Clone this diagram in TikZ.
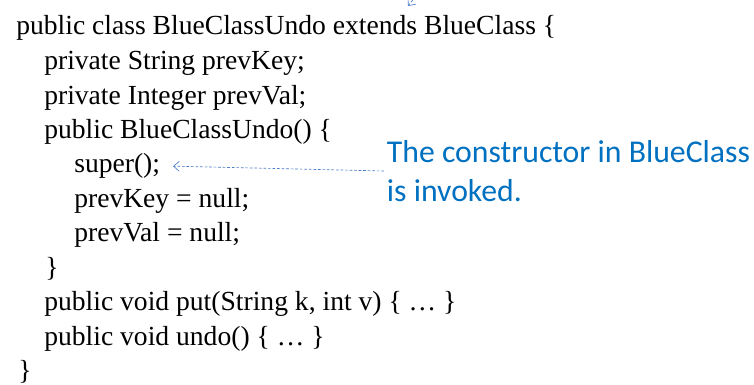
\documentclass[tikz,border=0pt]{standalone}
\usepackage{fontspec}
\setmainfont{Liberation Serif}
\newfontfamily\notefont{Carlito}
\usetikzlibrary{arrows.meta}
\definecolor{cnote}{HTML}{0070C0}
\definecolor{carrow}{HTML}{4A7BC8}
\tikzset{
  code/.style={anchor=base west, inner sep=0pt, font=\fontsize{20.7}{24}\selectfont},
  note/.style={font=\notefont\fontsize{23.8}{29.5}\selectfont, text=cnote, align=left, anchor=west, inner sep=2pt},
  link/.style={-{Straight Barb[length=1.5mm, width=2.6mm]}, draw=carrow, dash pattern=on 2pt off 1.4pt, line width=0.5pt},
}
\begin{document}
\begin{tikzpicture}[x=0.75pt, y=-0.75pt]
  \useasboundingbox (0,0) rectangle (754,385);
  % the class, one line of code per node
  \node[code] (head) at (16,35) {public class BlueClassUndo extends BlueClass \{};
  \node[code] (keydecl) at (44,69.5) {private String prevKey;};
  \node[code] (valdecl) at (44,104) {private Integer prevVal;};
  \node[code] (ctor) at (44,138.4) {public BlueClassUndo() \{};
  \node[code] (superline) at (74,172.8) {super();};
  \node[code] (keyinit) at (74,207.3) {prevKey = null;};
  \node[code] (valinit) at (74,241.7) {prevVal = null;};
  \node[code] (ctorend) at (45,276.2) {\}};
  \node[code] (putm) at (44,310.6) {public void put(String k, int v) \{ … \}};
  \node[code] (undom) at (44,345) {public void undo() \{ … \}};
  \node[code] (classend) at (18,379.5) {\}};
  % callout
  \node[note] (note) at (384,171) {The constructor in BlueClass\\is invoked.};
  \draw[link] (note.west) -- ([xshift=9.5pt]superline.east);
  % arrow coming in from above, cut by the page edge
  \coordinate (offtop) at (424,-14);
  \coordinate (tiptop) at (408,6);
  \draw[link] (offtop) -- (tiptop);
\end{tikzpicture}
\end{document}
